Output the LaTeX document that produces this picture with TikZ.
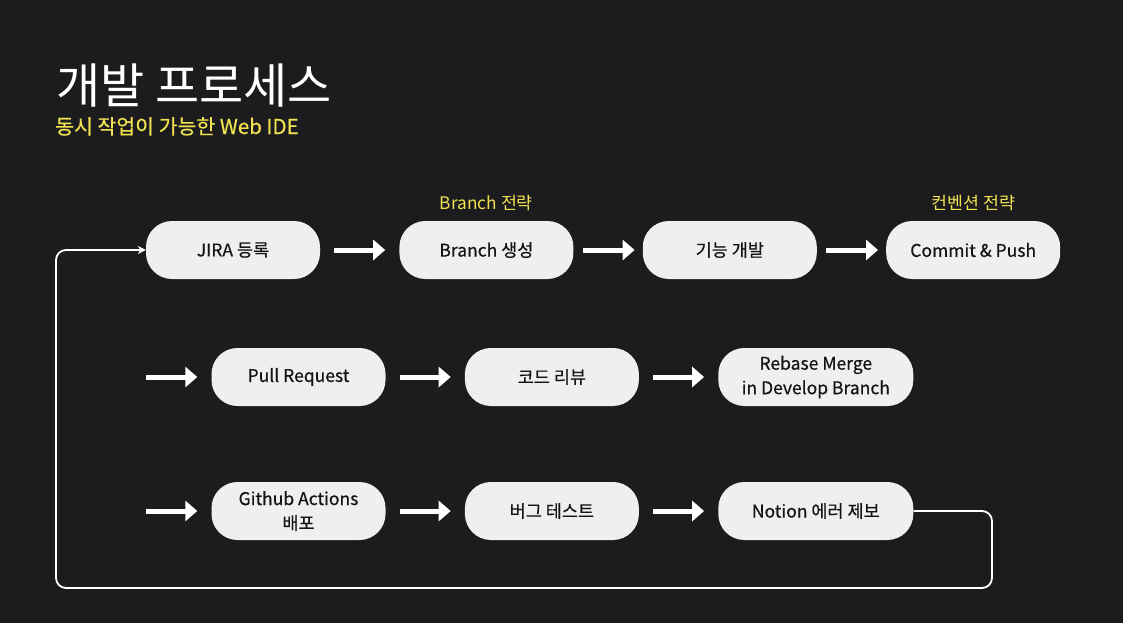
\documentclass[tikz,border=0pt]{standalone}
\usepackage{fontspec}
\setmainfont{Noto Sans CJK KR}
\newfontfamily\boxfont{Noto Sans CJK KR}[FakeBold=0.5]
\usetikzlibrary{
  positioning,
  arrows.meta
}
\definecolor{bgdark}{RGB}{28,28,30}
\definecolor{boxgray}{RGB}{239,239,239}
\definecolor{hiyellow}{RGB}{240,226,80}
\definecolor{inkdark}{RGB}{20,20,20}

\begin{document}
\begin{tikzpicture}[x=1pt,y=-1pt,node distance=79pt,
    proc/.style={fill=boxgray,rounded corners=26pt,minimum width=174pt,minimum height=58pt,
      align=center,text=inkdark,font=\boxfont\fontsize{17.5}{24.5}\selectfont},
    tag/.style={text=hiyellow,font=\fontsize{17.3}{20}\selectfont},
    fat/.style={draw=white,line width=5pt,-{Triangle[length=12pt,width=20pt]},
      shorten <=14pt,shorten >=14pt},
    thin/.style={draw=white,line width=1.8pt,rounded corners=10pt,
      -{Stealth[length=8pt,width=8pt]}}]
            \fill[bgdark] (0,0) rectangle (1123,623);
            \useasboundingbox (0,0) rectangle (1123,623);

            \node[anchor=base west,inner sep=0,text=white,font=\fontsize{48}{54}\selectfont] (title) at (56,103) {개발 프로세스};
            \node[anchor=base west,inner sep=0,text=hiyellow,font=\boxfont\fontsize{20.5}{24}\selectfont] (sub) at (55,134) {동시 작업이 가능한 Web IDE};

            % first row
            \node[proc] (jira) at (233,250) {JIRA 등록};
            \node[proc, right=of jira] (branch) {Branch 생성};
            \node[proc, right=69pt of branch] (feat) {기능 개발};
            \node[proc, right=69pt of feat] (push) {Commit \& Push};
            \node[tag, above=6pt of branch] (brtag) {Branch 전략};
            \node[tag, above=6pt of push] (cvtag) {컨벤션 전략};

            \draw[fat] (jira) -- (branch);
            \draw[fat, shorten <=9pt, shorten >=8pt] (branch) -- (feat);
            \draw[fat, shorten <=9pt, shorten >=8pt] (feat) -- (push);

            % second row
            \coordinate (in2) at (146,377);
            \node[proc] (pr) at (298.5,377) {Pull Request};
            \node[proc, right=of pr] (review) {코드 리뷰};
            \node[proc, right=of review, minimum width=195pt] (rebase) {Rebase Merge\\in Develop Branch};

            \draw[fat, shorten <=0pt] (in2) -- (pr);
            \draw[fat] (pr) -- (review);
            \draw[fat] (review) -- (rebase);

            % third row
            \coordinate (in3) at (146,511);
            \node[proc] (deploy) at (298.5,511) {Github Actions\\배포};
            \node[proc, right=of deploy] (bug) {버그 테스트};
            \node[proc, right=of bug, minimum width=195pt] (notion) {Notion 에러 제보};

            \draw[fat, shorten <=0pt] (in3) -- (deploy);
            \draw[fat] (deploy) -- (bug);
            \draw[fat] (bug) -- (notion);

            % back to the start
            \coordinate (rb) at (992,588);
            \coordinate (lb) at (56,588);
            \draw[thin] (notion.east) -| (rb) -- (lb) |- (jira.west);
        \end{tikzpicture}
\end{document}
